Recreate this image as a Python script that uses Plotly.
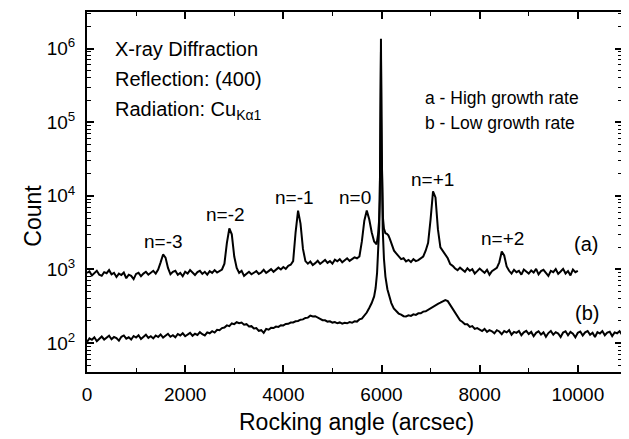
import plotly.graph_objects as go

# ---------------- data ----------------
# Curve (a): high growth rate
a_x_left = list(range(0, 5901, 50))
a_y_left = [
    900, 940, 830, 880, 960, 850, 820, 920, 890, 980,       # 0-450
    860, 900, 790, 880, 840, 910, 760, 850, 820, 740,       # 500-950
    870, 900, 810, 880, 930, 850, 900, 960, 880, 1000,      # 1000-1450
    1250, 1600, 1450, 1050, 860, 930, 960, 850, 900, 810,   # 1500-1950
    930, 880, 980, 900, 840, 920, 960, 870, 930, 850,       # 2000-2450
    950, 900, 980, 910, 960, 1000, 1200, 2300, 3600, 3000,  # 2500-2950
    1500, 1050, 900, 960, 820, 880, 930, 860, 900, 950,     # 3000-3450
    870, 910, 990, 900, 950, 1010, 930, 980, 1060, 1000,    # 3500-3950
    1080, 1020, 1120, 1160, 1300, 3200, 6300, 4200, 1900, 1300,  # 4000-4450
    1200, 1280, 1150, 1220, 1310, 1190, 1260, 1350, 1230, 1300,  # 4500-4950
    1200, 1360, 1290, 1380, 1250, 1330, 1420, 1310, 1380, 1460,  # 5000-5450
    1420, 1500, 2400, 4600, 6300, 4800, 3200, 2400, 2200,        # 5500-5900
]
a_x_peak = [5930, 5950, 5965, 5975, 5983, 5989, 5995, 6003, 6015, 6030,
            6050, 6080, 6110, 6140, 6170, 6210, 6255]
a_y_peak = [3000, 4500, 9000, 40000, 300000, 1360000, 300000, 40000, 10000, 5000,
            3600, 3100, 3050, 2900, 2600, 2200, 1800]
a_x_right = list(range(6300, 10001, 50))
a_y_right = [
    1650, 1520, 1380, 1420, 1290, 1350, 1260, 1380, 1300, 1340,  # 6300-6750
    1420, 1500, 1800, 2300, 4800, 11500, 9500, 3500, 2000, 1800, # 6800-7250
    1600, 1420, 1180, 1120, 1030, 980, 1060, 1000, 930, 1040,    # 7300-7750
    960, 1010, 880, 950, 1030, 960, 900, 990, 850, 950,          # 7800-8250
    1000, 1050, 1250, 1750, 1550, 1100, 960, 880, 990, 920,      # 8300-8750
    960, 850, 1000, 930, 880, 970, 910, 1020, 860, 950,          # 8800-9250
    990, 900, 820, 960, 920, 1010, 870, 940, 1020, 880,          # 9300-9750
    950, 830, 1000, 920, 960,                                    # 9800-10000
]

# Curve (b): low growth rate
b_x_left = list(range(0, 5851, 50))
b_y_left = [
    104, 116, 111, 120, 106, 115, 123, 112, 118, 126,   # 0-450
    113, 121, 117, 108, 122, 127, 115, 120, 112, 125,   # 500-950
    119, 128, 114, 122, 130, 118, 124, 116, 127, 121,   # 1000-1450
    131, 119, 126, 134, 122, 128, 120, 133, 127, 136,   # 1500-1950
    124, 130, 138, 126, 134, 129, 141, 132, 127, 140,   # 2000-2450
    136, 145, 139, 152, 150, 160, 163, 174, 170, 185,   # 2500-2950
    181, 192, 186, 190, 178, 181, 168, 170, 158, 160,   # 3000-3450
    147, 150, 138, 156, 152, 161, 160, 168, 166, 175,   # 3500-3950
    174, 182, 183, 190, 191, 198, 200, 208, 210, 220,   # 4000-4450
    222, 236, 230, 232, 220, 214, 205, 204, 196, 198,   # 4500-4950
    190, 193, 186, 191, 184, 189, 186, 193, 189, 198,   # 5000-5450
    196, 210, 215, 235, 260, 300, 350, 430,             # 5500-5850
]
b_x_peak = [5880, 5910, 5935, 5955, 5970, 5980, 5989, 5998, 6010, 6025,
            6050, 6080, 6120, 6160, 6200, 6250]
b_y_peak = [560, 900, 1700, 4000, 20000, 150000, 900000, 120000, 15000, 3500,
            1400, 800, 540, 420, 350, 295]
b_x_right = list(range(6300, 10901, 50))
b_y_right = [
    270, 252, 244, 232, 230, 238, 234, 246, 242, 254,   # 6300-6750
    254, 268, 270, 284, 292, 310, 322, 342, 354, 372,   # 6800-7250
    385, 372, 330, 285, 250, 222, 204, 194, 180, 180,   # 7300-7750
    166, 170, 156, 160, 152, 146, 156, 142, 150, 145,   # 7800-8250
    136, 150, 144, 132, 146, 140, 150, 130, 142, 138,   # 8300-8750
    146, 128, 140, 147, 133, 142, 124, 138, 145, 131,   # 8800-9250
    140, 122, 137, 146, 130, 141, 135, 121, 139, 145,   # 9300-9750
    128, 142, 134, 120, 138, 144, 127, 140, 146, 130,   # 9800-10250
    138, 121, 141, 135, 146, 128, 139, 143, 125, 140,   # 10300-10750
    136, 145, 130,                                      # 10800-10900
]

y_tick_vals = [1e2, 1e3, 1e4, 1e5, 1e6]
y_tick_text = ["10<sup>2</sup>", "10<sup>3</sup>", "10<sup>4</sup>",
               "10<sup>5</sup>", "10<sup>6</sup>"]

peak_labels = ["n=-3", "n=-2", "n=-1", "n=0", "n=+1", "n=+2"]
peak_label_x = [1550, 2830, 4220, 5470, 7040, 8460]
peak_label_y = [3.384, 3.743, 3.982, 3.982, 4.226, 3.422]

FONT = "Liberation Sans, Arial, sans-serif"

# ---------------- figure ----------------
a_x = a_x_left + a_x_peak + a_x_right
a_y = a_y_left + a_y_peak + a_y_right
b_x = b_x_left + b_x_peak + b_x_right
b_y = b_y_left + b_y_peak + b_y_right

fig = go.Figure()
fig.add_trace(go.Scatter(x=b_x, y=b_y, mode="lines",
                         line=dict(color="black", width=2), showlegend=False))
fig.add_trace(go.Scatter(x=a_x, y=a_y, mode="lines",
                         line=dict(color="black", width=2), showlegend=False))

fig.update_xaxes(range=[0, 10900], tick0=0, dtick=2000, tickformat="d",
                 showgrid=False, zeroline=False,
                 ticks="inside", ticklen=7, tickwidth=1.5, tickcolor="black",
                 minor=dict(ticks="inside", ticklen=4, tickwidth=1.2, dtick=1000,
                            tick0=0, tickcolor="black", showgrid=False),
                 showline=True, linewidth=2, linecolor="black", mirror="ticks",
                 tickfont=dict(family=FONT, size=19, color="black"),
                 ticklabelstandoff=4)
fig.update_yaxes(type="log", range=[1.608, 6.496], tickmode="array",
                 tickvals=y_tick_vals, ticktext=y_tick_text,
                 showgrid=False, zeroline=False,
                 ticks="inside", ticklen=7, tickwidth=1.5, tickcolor="black",
                 minor=dict(ticks="inside", ticklen=4, tickwidth=1.2, dtick="D1",
                            tickcolor="black", showgrid=False),
                 showline=True, linewidth=2, linecolor="black", mirror="ticks",
                 tickfont=dict(family=FONT, size=19, color="black"),
                 ticklabelstandoff=6)

ann = []
for t, x, y in zip(peak_labels, peak_label_x, peak_label_y):
    ann.append(dict(x=x, y=y, xref="x", yref="y", text=t, showarrow=False,
                    font=dict(family=FONT, size=19, color="black"),
                    xanchor="center", yanchor="middle"))
ann.append(dict(x=10160, y=3.347, xref="x", yref="y", text="(a)", showarrow=False,
                font=dict(family=FONT, size=20, color="black")))
ann.append(dict(x=10185, y=2.415, xref="x", yref="y", text="(b)", showarrow=False,
                font=dict(family=FONT, size=20, color="black")))
for t, yp in [("X-ray Diffraction", 0.898), ("Reflection: (400)", 0.815),
              ("Radiation: Cu<sub>Kα1</sub>", 0.727)]:
    ann.append(dict(x=0.049, y=yp, xref="paper", yref="paper", text=t, showarrow=False,
                    xanchor="left", yanchor="middle",
                    font=dict(family=FONT, size=20, color="black")))
for t, yp in [("a - High growth rate", 0.760), ("b - Low growth rate", 0.692)]:
    ann.append(dict(x=0.628, y=yp, xref="paper", yref="paper", text=t, showarrow=False,
                    xanchor="left", yanchor="middle",
                    font=dict(family=FONT, size=17.5, color="black")))
ann.append(dict(x=0.503, y=-0.138, xref="paper", yref="paper",
                text="Rocking angle (arcsec)", showarrow=False,
                xanchor="center", yanchor="middle",
                font=dict(family=FONT, size=23, color="black")))
ann.append(dict(x=-0.101, y=0.434, xref="paper", yref="paper", text="Count",
                showarrow=False, textangle=-90, xanchor="center", yanchor="middle",
                font=dict(family=FONT, size=23, color="black")))

# the page adds an 8px body margin, so the figure is sized to fit the window
fig.update_layout(width=621, height=431, margin=dict(l=79, r=7, t=2, b=67),
                  paper_bgcolor="white", plot_bgcolor="white",
                  annotations=ann, showlegend=False)

fig.write_html("out.html")
